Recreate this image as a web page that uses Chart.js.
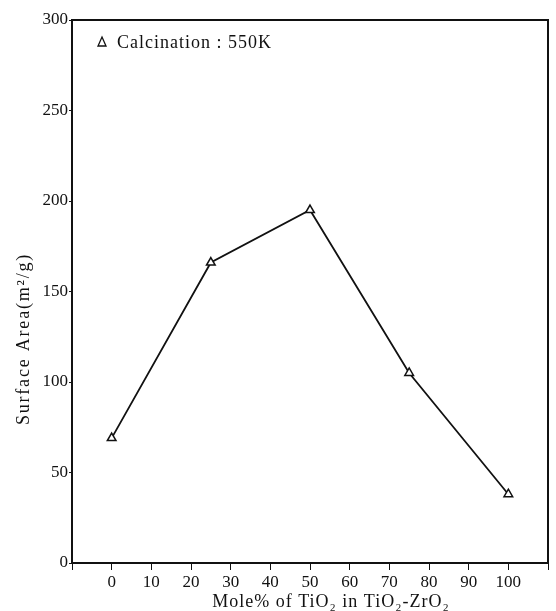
<!DOCTYPE html>
<html>
<head>
<meta charset="utf-8">
<script src="https://cdn.jsdelivr.net/npm/chart.js@4"></script>
<style>
  html, body { margin: 0; padding: 0; background: #fff; }
  #chart-area { display: block; }
</style>
</head>
<body>
<canvas id="chart-area" width="556" height="611"></canvas>
<script>
//
// Surface area vs. TiO2 content
//

// Data
var molePct = [0, 25, 50, 75, 100];
var surfaceArea = [69, 166, 195, 105, 38];
var xTickValues = [0, 10, 20, 30, 40, 50, 60, 70, 80, 90, 100];
var yTickValues = [0, 50, 100, 150, 200, 250, 300];

var ink = "#111";
var serif = "'Liberation Serif', 'DejaVu Serif', serif";

// Frame, legend note and axis titles
var decorations = {
  id: "decorations",
  afterDraw: function (chart) {
    var ctx = chart.ctx;
    var a = chart.chartArea;
    ctx.save();
    ctx.strokeStyle = ink;
    ctx.lineWidth = 2;
    ctx.beginPath();
    ctx.moveTo(a.left, a.top);
    ctx.lineTo(a.right, a.top);
    ctx.lineTo(a.right, a.bottom);
    ctx.stroke();

    // legend entry
    ctx.lineWidth = 1.3;
    ctx.beginPath();
    ctx.moveTo(102, 37);
    ctx.lineTo(106, 46);
    ctx.lineTo(98, 46);
    ctx.closePath();
    ctx.stroke();
    ctx.fillStyle = ink;
    ctx.font = "18px " + serif;
    ctx.letterSpacing = "1px";
    ctx.textAlign = "left";
    ctx.textBaseline = "middle";
    ctx.fillText("Calcination : 550K", 117, 43);

    // x title
    ctx.textAlign = "center";
    ctx.font = "18px " + serif;
    ctx.letterSpacing = "1px";
    ctx.fillText("Mole% of TiO\u2082 in TiO\u2082-ZrO\u2082", 331, 602);

    // y title
    ctx.translate(24, 339);
    ctx.rotate(-Math.PI / 2);
    ctx.letterSpacing = "1.8px";
    ctx.fillText("Surface Area(m\u00b2/g)", 0, 0);
    ctx.restore();
  }
};

function initChart(canvas) {
  var points = molePct.map(function (m, i) {
    return { x: m, y: surfaceArea[i] };
  });

  var chart = new Chart(canvas, {
    type: "line",
    data: {
      datasets: [
        {
          label: "Calcination : 550K",
          data: points,
          borderColor: ink,
          borderWidth: 1.8,
          tension: 0,
          pointStyle: "triangle",
          pointRadius: 5,
          pointBorderWidth: 1.5,
          pointBorderColor: ink,
          pointBackgroundColor: "#fff"
        }
      ]
    },
    options: {
      responsive: false,
      animation: false,
      layout: { padding: { top: 20, right: 8, left: 0, bottom: 0 } },
      plugins: {
        legend: { display: false },
        tooltip: { enabled: false }
      },
      scales: {
        x: {
          type: "linear",
          min: -10,
          max: 110,
          afterBuildTicks: function (scale) {
            scale.ticks = [-10].concat(xTickValues, [110]).map(function (v) {
              return { value: v };
            });
          },
          ticks: {
            autoSkip: false,
            maxRotation: 0,
            padding: 2,
            color: ink,
            font: { family: serif, size: 17 },
            callback: function (v) {
              return xTickValues.indexOf(v) >= 0 ? String(v) : "";
            }
          },
          grid: { drawOnChartArea: false, tickLength: 7, color: ink, tickWidth: 1 },
          border: { color: ink, width: 2 },
          afterFit: function (scale) { scale.height = 48; }
        },
        y: {
          min: 0,
          max: 300,
          afterBuildTicks: function (scale) {
            scale.ticks = yTickValues.map(function (v) { return { value: v }; });
          },
          ticks: {
            padding: 1,
            color: ink,
            font: { family: serif, size: 17 }
          },
          grid: { drawOnChartArea: false, tickLength: 3, color: ink, tickWidth: 1 },
          border: { color: ink, width: 2 },
          afterFit: function (scale) { scale.width = 72; }
        }
      }
    },
    plugins: [decorations]
  });

  return chart;
}

initChart(document.getElementById("chart-area"));
</script>
</body>
</html>
